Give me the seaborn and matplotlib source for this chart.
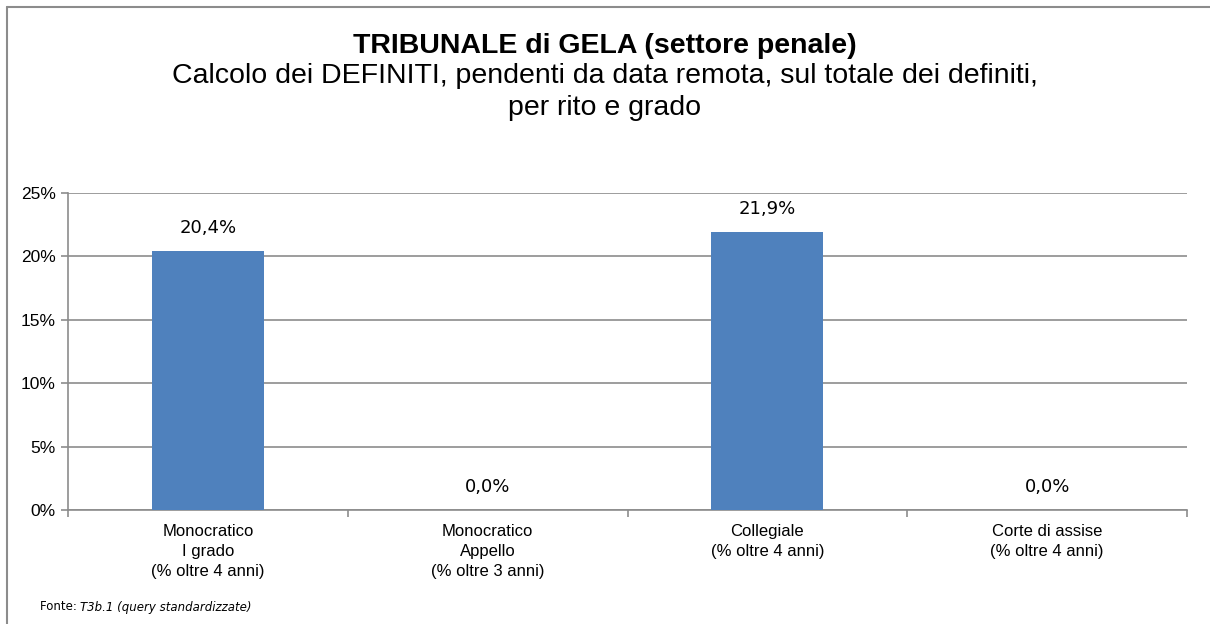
import numpy as np
import pandas as pd
import matplotlib
matplotlib.use("Agg")
import matplotlib.pyplot as plt
import seaborn as sns
from matplotlib.lines import Line2D

# Chart data
categories = [
    "Monocratico\nI grado\n(% oltre 4 anni)",
    "Monocratico\nAppello\n(% oltre 3 anni)",
    "Collegiale\n(% oltre 4 anni)",
    "Corte di assise\n(% oltre 4 anni)",
]
values = [20.4, 0.0, 21.9, 0.0]
y_ticks = [0, 5, 10, 15, 20, 25]

df = pd.DataFrame({"Categoria": categories, "Valore": values})

sns.set_style("white")
plt.rcParams["font.family"] = ["Liberation Sans", "DejaVu Sans"]
plt.rcParams["text.color"] = "black"
plt.rcParams["xtick.color"] = "black"
plt.rcParams["ytick.color"] = "black"

fig = plt.figure(figsize=(12.1, 6.24), dpi=100)
ax = fig.add_axes([68 / 1210, 1 - 510 / 624, (1187 - 68) / 1210, (510 - 193) / 624])

sns.barplot(data=df, x="Categoria", y="Valore", color="#4F81BD", saturation=1,
            width=0.4, linewidth=0, ax=ax, zorder=3)

ax.set_ylim(0, 25)
ax.set_xlim(-0.5, len(categories) - 0.5)
ax.set_yticks(y_ticks)
ax.set_yticklabels([f"{t}%" for t in y_ticks], fontsize=12.5)
ax.yaxis.grid(True, color="#8c8c8c", linewidth=1.2, zorder=0)
ax.set_xlabel("")
ax.set_ylabel("")

# Category separators as tick marks
ax.set_xticks(np.arange(-0.5, len(categories), 1.0), minor=True)
ax.set_xticks(range(len(categories)))
ax.set_xticklabels(categories, fontsize=12, linespacing=1.42)
ax.tick_params(axis="x", which="major", length=0, pad=10)
ax.tick_params(axis="x", which="minor", length=5, color="#8c8c8c", width=1.2,
               bottom=True)
ax.tick_params(axis="y", length=5, color="#8c8c8c", labelcolor="black",
               width=1.2, left=True, pad=4)
ax.tick_params(axis="x", labelcolor="black")

for side in ["top", "right"]:
    ax.spines[side].set_visible(False)
for side in ["left", "bottom"]:
    ax.spines[side].set_color("#8c8c8c")
    ax.spines[side].set_linewidth(1.2)

# Value labels
for i, v in enumerate(values):
    ax.annotate(f"{v:.1f}%".replace(".", ","), (i, v), xytext=(0, 10),
                textcoords="offset points", ha="center", va="bottom",
                fontsize=13, family="DejaVu Sans", color="black")

# Titles
fig.text(0.5, 1 - 46 / 624, "TRIBUNALE di GELA (settore penale)", ha="center",
         va="center", fontsize=20.5, fontweight="bold")
fig.text(0.5, 1 - 92 / 624,
         "Calcolo dei DEFINITI, pendenti da data remota, sul totale dei definiti,\nper rito e grado",
         ha="center", va="center", fontsize=20.5, linespacing=1.32)

# Source note
fig.text(40 / 1210, 1 - 607 / 624, "Fonte: ", ha="left", va="center",
         fontsize=8.5, family="DejaVu Sans")
fig.text(80 / 1210, 1 - 607 / 624, "T3b.1 (query standardizzate)", ha="left",
         va="center", fontsize=8.5, family="DejaVu Sans", style="italic")

# Outer frame (top and left edges visible)
fig.add_artist(Line2D([7 / 1210, 1], [1 - 7 / 624, 1 - 7 / 624],
                      color="#8c8c8c", linewidth=1.5, transform=fig.transFigure))
fig.add_artist(Line2D([7 / 1210, 7 / 1210], [0, 1 - 7 / 624],
                      color="#8c8c8c", linewidth=1.5, transform=fig.transFigure))

fig.savefig("out.png", dpi=100)
